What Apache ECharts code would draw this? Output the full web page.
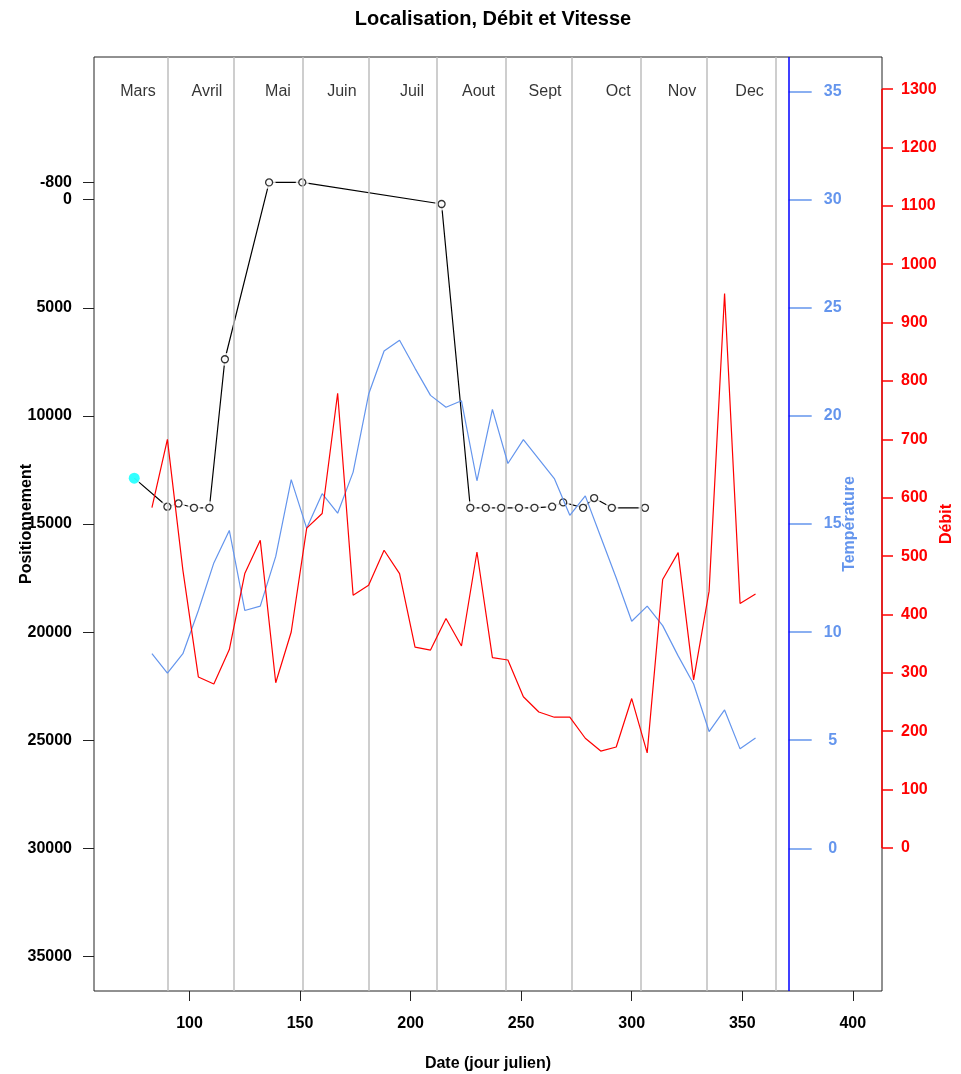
<!DOCTYPE html>
<html><head><meta charset="utf-8">
<script src="https://cdn.jsdelivr.net/npm/echarts@6.0.0/dist/echarts.min.js"></script>
<style>html,body{margin:0;padding:0;background:#fff}#c{width:961px;height:1074px}</style>
</head><body><div id="c"></div>
<script>
// ---- data ----
const weekDays = [83,90,97,104,111,118,125,132,139,146,153,160,167,174,181,188,195,202,209,216,223,230,237,244,251,258,265,272,279,286,293,300,307,314,321,328,335,342,349,356];
const temperature = [9.0,8.1,9.0,11.0,13.2,14.7,11.0,11.2,13.5,17.05,14.8,16.4,15.5,17.4,21.0,23.0,23.5,22.2,20.95,20.4,20.7,17.0,20.3,17.8,18.9,18.0,17.1,15.4,16.3,14.4,12.5,10.5,11.2,10.3,8.9,7.6,5.4,6.4,4.6,5.1];
const debit = [583,700,476,293,281,340,470,527,283,370,548,573,779,433,450,510,470,344,339,393,346,507,326,322,259,233,224,224,188,166,173,256,163,460,506,288,440,950,419,435];
const posDays = [75,90,95,102,109,116,136,151,214,227,234,241,249,256,264,269,278,283,291,306];
const positionnement = [12880,14200,14050,14250,14250,7380,-800,-800,200,14250,14250,14250,14250,14250,14200,14000,14250,13800,14250,14250];
const monthNames = ['Mars','Avril','Mai','Juin','Juil','Aout','Sept','Oct','Nov','Dec'];
const monthLabelDays = [76.7,107.9,140.0,168.9,200.6,230.7,260.8,293.9,322.7,353.3];
const monthLabelLevel = -5000;
const monthEnds = [90,120,151,181,212,243,273,304,334,365];
const blueLineDay = 371;
const xTicks = [100,150,200,250,300,350,400];
const posTicks = [-800,0,5000,10000,15000,20000,25000,30000,35000];
const tempTicks = [0,5,10,15,20,25,30,35];
const debitTicks = [0,100,200,300,400,500,600,700,800,900,1000,1100,1200,1300];

// ---- chart ----
const FONT = "'Liberation Sans', Arial, sans-serif";
const BLUE = '#6495ED', RED = '#FF0000';
const GRID = {left: 94, right: 79, top: 57, bottom: 83};
const chart = echarts.init(document.getElementById('c'), null, {renderer: 'canvas'});

const posData = posDays.map((d, i) => [d, positionnement[i]]);
const tempData = weekDays.map((d, i) => [d, temperature[i]]);
const debitData = weekDays.map((d, i) => [d, debit[i]]);
const monthLabelData = monthNames.map((n, i) => ({name: n, value: [monthLabelDays[i], monthLabelLevel]}));

const plain = v => String(v);
const boldLabel = (color) => ({fontFamily: FONT, fontSize: 16, fontWeight: 'bold', color: color});

const option = {
  animation: false,
  backgroundColor: '#fff',
  title: {
    text: 'Localisation, Débit et Vitesse',
    left: 488, top: 4, textAlign: 'center',
    textStyle: {fontFamily: FONT, fontSize: 20, fontWeight: 'bold', color: '#000'}
  },
  grid: Object.assign({show: true, borderColor: '#222', borderWidth: 1, backgroundColor: 'transparent',
    containLabel: false, outerBoundsMode: 'none'}, GRID),
  xAxis: {
    type: 'value', min: 56.8, max: 413.2,
    axisLine: {show: false, onZero: false},
    axisTick: {show: true, length: 10, lineStyle: {color: '#222'}, customValues: xTicks},
    axisLabel: Object.assign({customValues: xTicks, margin: 25, formatter: plain}, boldLabel('#000')),
    splitLine: {show: false},
    name: 'Date (jour julien)', nameLocation: 'middle', nameGap: 65, nameMoveOverlap: false,
    nameTextStyle: boldLabel('#000')
  },
  yAxis: [
    {
      type: 'value', inverse: true, min: -6600, max: 36600, position: 'left',
      axisLine: {show: false, onZero: false},
      axisTick: {show: true, length: 11, lineStyle: {color: '#222'}, customValues: posTicks},
      axisLabel: Object.assign({customValues: posTicks, margin: 22, formatter: plain}, boldLabel('#000')),
      splitLine: {show: false},
      name: 'Positionnement', nameLocation: 'middle', nameGap: 59, nameMoveOverlap: false,
      nameTextStyle: boldLabel('#000')
    },
    {
      type: 'value', min: -6.6, max: 36.6, position: 'right', offset: -93,
      axisLine: {show: false, onZero: false},
      axisTick: {show: true, length: 23, lineStyle: {color: BLUE, width: 1.5}, customValues: tempTicks},
      axisLabel: Object.assign({customValues: tempTicks, margin: 44, align: 'center', formatter: plain}, boldLabel(BLUE)),
      splitLine: {show: false},
      name: 'Température', nameLocation: 'middle', nameGap: 53, nameMoveOverlap: false,
      nameTextStyle: boldLabel(BLUE)
    },
    {
      type: 'value', min: -245, max: 1355, position: 'right', offset: 0,
      axisLine: {show: false, onZero: false},
      axisTick: {show: true, length: 11, lineStyle: {color: RED, width: 1.5}, customValues: debitTicks},
      axisLabel: Object.assign({customValues: debitTicks, margin: 19, formatter: plain}, boldLabel(RED)),
      splitLine: {show: false},
      name: 'Débit', nameLocation: 'middle', nameGap: 57, nameMoveOverlap: false,
      nameTextStyle: boldLabel(RED)
    }
  ],
  series: [
    {
      name: 'pos-line', type: 'line', yAxisIndex: 0, z: 1, data: posData,
      symbol: 'none', lineStyle: {color: '#000', width: 1.2}, silent: true
    },
    {
      name: 'pos-gap', type: 'scatter', yAxisIndex: 0, z: 2, data: posData,
      symbol: 'circle', symbolSize: 13, itemStyle: {color: '#fff'}, silent: true
    },
    {
      name: 'months', type: 'line', yAxisIndex: 0, z: 3, data: [], silent: true,
      markLine: {
        silent: true, symbol: ['none', 'none'], label: {show: false},
        data: monthEnds.map(d => ({xAxis: d, lineStyle: {color: '#BEBEBE', width: 1.5, type: 'solid'}}))
          .concat([{xAxis: blueLineDay, lineStyle: {color: '#0000FF', width: 1.5, type: 'solid'}}])
      }
    },
    {
      name: 'month-labels', type: 'scatter', yAxisIndex: 0, z: 3, data: monthLabelData,
      symbolSize: 0, silent: true,
      label: {show: true, position: 'inside', formatter: p => p.name, fontFamily: FONT, fontSize: 16, color: '#000'}
    },
    {
      name: 'pos-points', type: 'scatter', yAxisIndex: 0, z: 4, data: posData.slice(1),
      symbol: 'circle', symbolSize: 7, itemStyle: {color: '#fff', borderColor: '#000', borderWidth: 1.3}, silent: true
    },
    {
      name: 'start', type: 'scatter', yAxisIndex: 0, z: 5, data: posData.slice(0, 1),
      symbol: 'circle', symbolSize: 11, itemStyle: {color: '#00FFFF'}, silent: true
    },
    {
      name: 'Température', type: 'line', yAxisIndex: 1, z: 6, data: tempData,
      symbol: 'none', lineStyle: {color: BLUE, width: 1.2}, silent: true
    },
    {
      name: 'Débit', type: 'line', yAxisIndex: 2, z: 7, data: debitData, clip: false,
      symbol: 'none', lineStyle: {color: RED, width: 1.2}, silent: true,
      markLine: {
        silent: true, symbol: ['none', 'none'], label: {show: false},
        lineStyle: {color: RED, width: 1.5, type: 'solid'},
        data: [[{coord: [413.2, debitTicks[0]]}, {coord: [413.2, debitTicks[debitTicks.length - 1]]}]]
      }
    }
  ]
};
chart.setOption(option);
// place the temperature axis on the blue vertical line
const bluePx = chart.convertToPixel({xAxisIndex: 0}, blueLineDay);
const gridRight = 961 - GRID.right;
chart.setOption({yAxis: [{}, {offset: bluePx - gridRight}, {}]});
</script>
</body></html>
